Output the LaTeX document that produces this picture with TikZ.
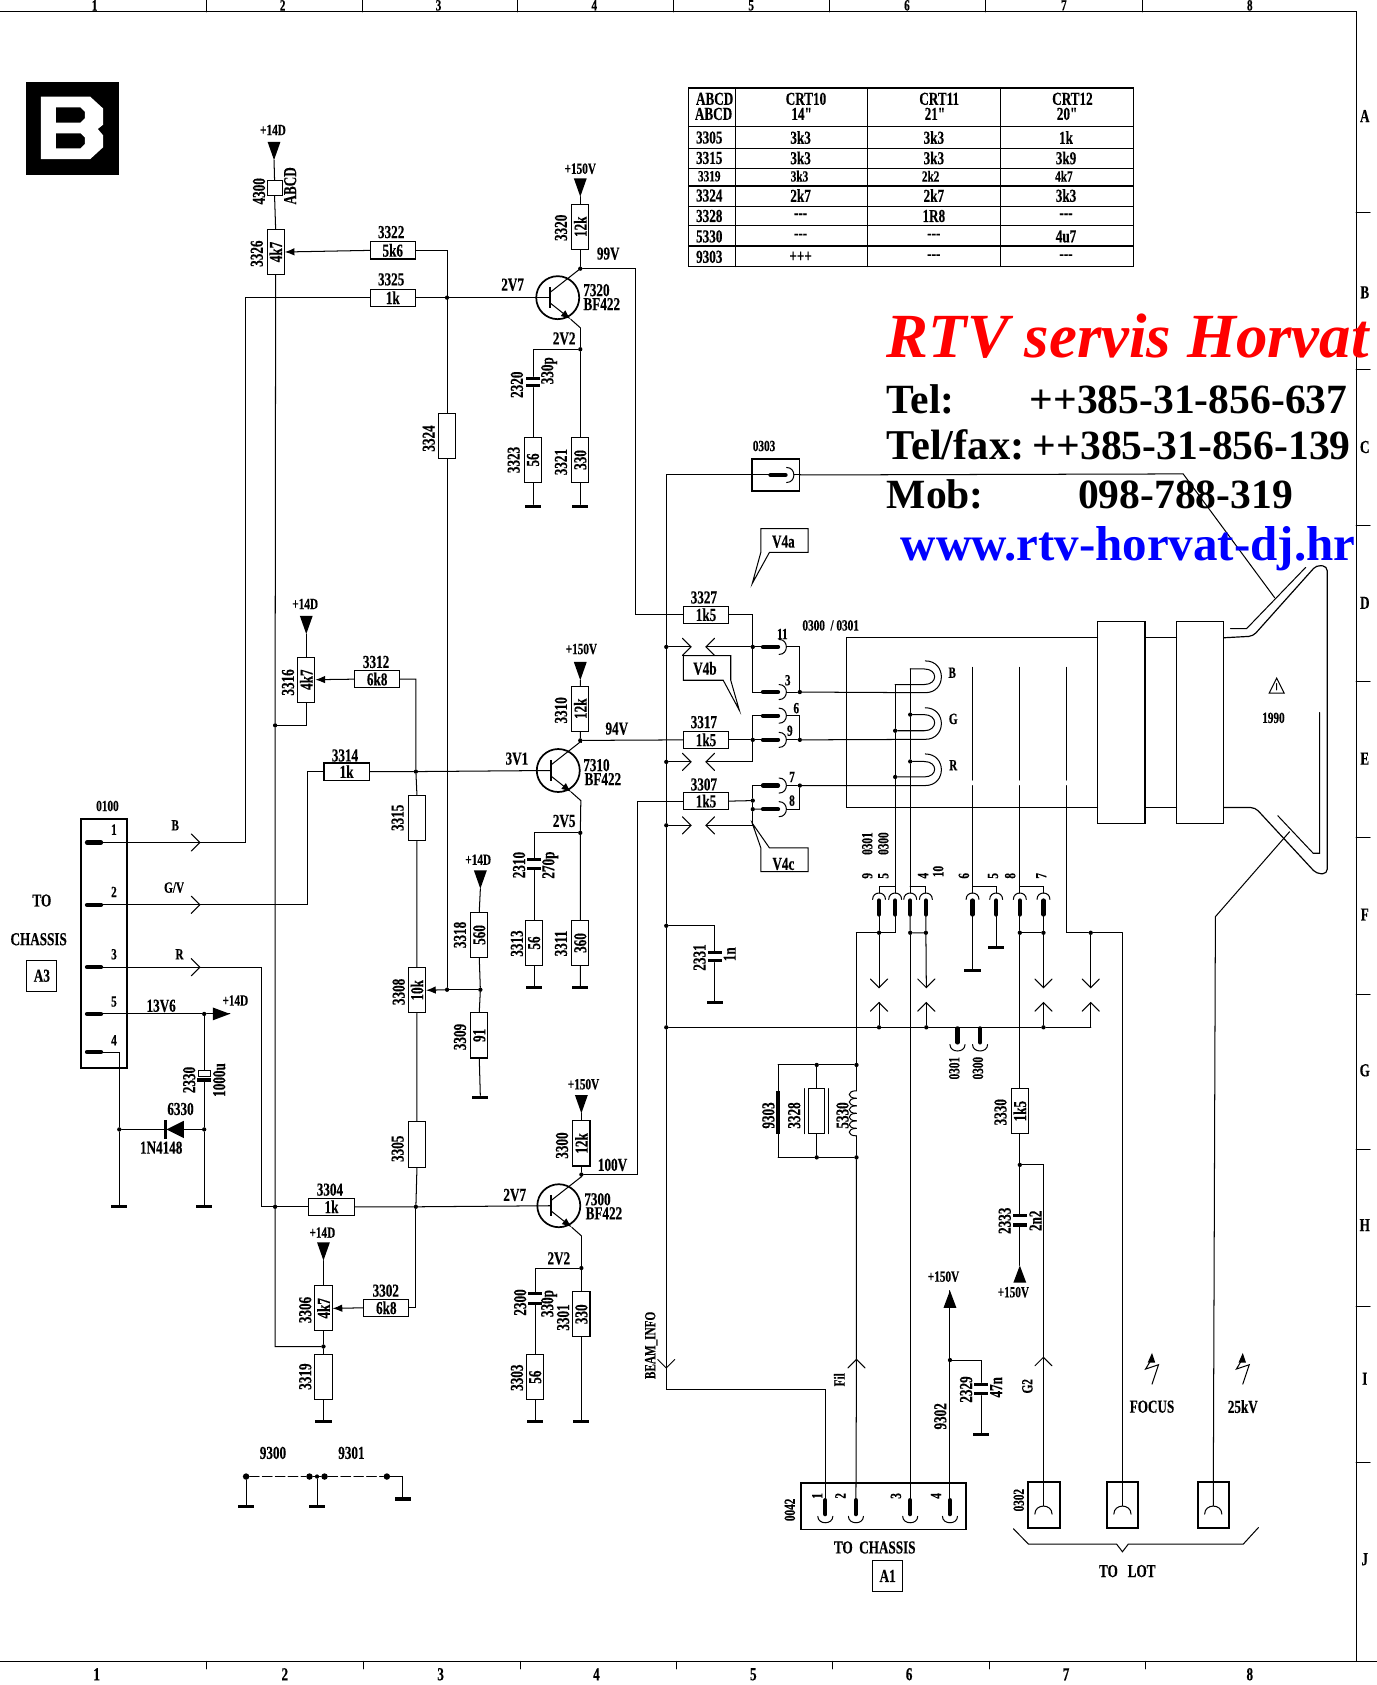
\documentclass[tikz,border=0pt]{standalone}
\usepackage{fontspec}
\usetikzlibrary{arrows.meta}
\newfontfamily\wmfam{Liberation Serif}
\newfontfamily\lfam{Liberation Serif}[FakeStretch=0.72,FakeBold=0.3]
\newcommand\fl{\lfam\bfseries\fontsize{17}{17}\selectfont}
\newcommand\fs{\lfam\bfseries\fontsize{14.5}{14.5}\selectfont}
\newcounter{tn}
\newcommand\sT[4][lb]{\stepcounter{tn}\node[#1] (t\thetn) at (#2,#3) {#4};}
\newcommand\sJ[3]{\node[jdot] (#1) at (#2,#3) {};}
\newcommand\sG[3]{\node[gnd] (#1) at (#2,#3) {};}
\newcommand\sC[3]{\coordinate (#1) at (#2,#3);}
\newcommand\sNpn[3]{%
 \node[tcirc] (#1) at (#2,#3) {};
 \begin{scope}[shift={(#2,#3)}]
 \coordinate (#1b) at (-7,0); \coordinate (#1c) at (21,-27); \coordinate (#1e) at (21,28);
 \draw[line width=1.7pt] (-7,-10) -- (-7,10);
 \draw[wire] (-7,-5) -- (#1c);
 \draw[wire,-{Latex[length=9pt,width=7pt]}] (-7,5) -- (12,20);
 \draw[wire] (12,20) -- (#1e);
 \end{scope}}
\newcommand\sPinH[3]{\begin{scope}[shift={(#2,#3)}]
 \coordinate (#1L) at (0,0); \coordinate (#1R) at (23,0);
 \draw[pinl] (1,0) -- (15,0);
 \draw[wire] (16,-7) .. controls (25,-7) and (25,7) .. (16,7);
 \end{scope}}
\newcommand\sPinV[3]{\begin{scope}[shift={(#2,#3)}]
 \coordinate (#1T) at (0,0); \coordinate (#1B) at (0,21);
 \draw[pinl] (0,7) -- (0,20);
 \draw[wire] (-6,6) .. controls (-6,-2) and (6,-2) .. (6,6);
 \end{scope}}
\newcommand\sPinB[3]{\begin{scope}[shift={(#2,#3)}]
 \coordinate (#1T) at (0,0);
 \draw[pinl] (0,1) -- (0,14);
 \draw[wire] (-7,16) .. controls (-7,24) and (7,24) .. (7,16);
 \end{scope}}
\newcommand\sTriD[3]{\coordinate (#1) at (#2,#3);
 \fill ([xshift=-6pt,yshift=17pt]#1) -- ([xshift=6pt,yshift=17pt]#1) -- (#1) -- cycle;}
\newcommand\sTriU[3]{\coordinate (#1) at (#2,#3);
 \fill ([xshift=-6pt,yshift=-16pt]#1) -- ([xshift=6pt,yshift=-16pt]#1) -- (#1) -- cycle;}
\newcommand\opR[1]{\draw[wire] ([xshift=-8pt,yshift=8pt]#1) -- (#1) -- ([xshift=-8pt,yshift=-8pt]#1);}
\newcommand\opL[1]{\draw[wire] ([xshift=8pt,yshift=8pt]#1) -- (#1) -- ([xshift=8pt,yshift=-8pt]#1);}
\newcommand\opD[1]{\draw[wire] ([xshift=-8pt,yshift=8pt]#1) -- (#1) -- ([xshift=8pt,yshift=8pt]#1);}
\newcommand\opU[1]{\draw[wire] ([xshift=-8pt,yshift=-8pt]#1) -- (#1) -- ([xshift=8pt,yshift=-8pt]#1);}
\newcommand\sCap[4]{\node[plate] (#1a) at (#2,#3) {}; \node[plate] (#1b) at (#2,#4) {};}
\tikzset{
 x=1pt,y=-1pt,
 wire/.style={line width=0.95pt,line cap=round},
 pinl/.style={line width=4pt,line cap=round},
 lb/.style={font=\fl,inner sep=0pt},
 ls/.style={font=\fs,inner sep=0pt},
 lv/.style={font=\fl,inner sep=0pt,rotate=90},
 lsv/.style={font=\fs,inner sep=0pt,rotate=90},
 hr/.style={draw,line width=1pt,fill=white,minimum width=42pt,minimum height=16pt,inner sep=0pt,font=\fl},
 vr/.style={hr,rotate=90},
 sq/.style={draw,line width=1pt,fill=white,minimum width=14pt,minimum height=14pt,inner sep=0pt},
 jdot/.style={circle,fill=black,minimum size=4pt,inner sep=0pt},
 gnd/.style={rectangle,fill=black,minimum width=15pt,minimum height=3pt,inner sep=0pt},
 plate/.style={rectangle,fill=black,minimum width=13pt,minimum height=3pt,inner sep=0pt},
 tcirc/.style={circle,draw,line width=1.6pt,minimum size=40pt,inner sep=0pt},
 conn/.style={draw,line width=1.8pt,inner sep=0pt},
 wiper/.style={wire,-{Latex[length=9pt,width=7pt]}},
}
\begin{document}
\begin{tikzpicture}
\useasboundingbox (0,0) rectangle (1281,1568);
\fill[white] (0,0) rectangle (1281,1568);
%% frame
\draw[wire] (0,11) -- (1262,11) -- (1262,1546);
\draw[wire] (0,1546) -- (1281,1546);
\foreach \x in {192,337,482,627,772,917,1063} \draw[wire] (\x,0) -- (\x,11);
\foreach \x in {192.6,338.6,484,629.5,775,920.5,1066} \draw[wire] (\x,1546) -- (\x,1553);
\foreach \y in {198,344,489,634,779,925,1070,1216,1361} \draw[wire] (1262,\y) -- (1275,\y);
\foreach \n/\x in {1/88,2/263,3/408,4/553,5/699,6/844,7/990,8/1163} \node[ls] (top\n) at (\x,5) {\n};
\foreach \n/\x in {1/90,2/265,3/410,4/555,5/701,6/846,7/992,8/1163} \node[lb] (bot\n) at (\x,1558) {\n};
\foreach \n/\y in {A/108,B/272,C/416,D/561,E/706,F/851,G/996,H/1140,I/1283,J/1451} \node[lb] (side\n) at (1270,\y) {\n};
%% logo
\fill (24,76) rectangle (111,163);
\fill[white,even odd rule] (38,90) -- (84,90) -- (96,101) -- (96,116) -- (91,120) -- (96,126) -- (96,137) -- (84,148) -- (38,148) -- cycle
  (52,100) -- (75,100) -- (79,104) -- (79,110) -- (75,114) -- (52,114) -- cycle
  (52,124) -- (75,124) -- (79,128) -- (79,134) -- (75,138) -- (52,138) -- cycle;
%% table
\draw[line width=1.2pt] (641,82) rectangle (1055,248);
\foreach \y in {118,138,157,173,192,210,229} \draw[line width=1.2pt] (641,\y) -- (1055,\y);
\foreach \x in {684,807,931} \draw[wire] (\x,82) -- (\x,248);
\sT[lb]{665}{92}{ABCD}\sT[lb]{664}{106}{ABCD}
\sT[lb]{750}{92}{CRT10}\sT[lb]{746}{106}{14"}
\sT[lb]{874}{92}{CRT11}\sT[lb]{870}{106}{21"}
\sT[lb]{998}{92}{CRT12}\sT[lb]{993}{106}{20"}
\foreach \r/\a/\b/\c/\d/\y in {1/3305/3k3/3k3/1k/128,2/3315/3k3/3k3/3k9/147,4/3324/2k7/2k7/3k3/182,5/3328/---/1R8/---/201,6/5330/---/---/4u7/220,7/9303/+++/---/---/239}{
 \node[lb] (ta\r) at (660,\y) {\a};
 \node[lb] (tb\r) at (745,\y) {\b};
 \node[lb] (tc\r) at (869,\y) {\c};
 \node[lb] (td\r) at (992,\y) {\d};}
\sT[ls]{660}{164}{3319}\sT[ls]{744}{164}{3k3}\sT[ls]{866}{164}{2k2}\sT[ls]{990}{164}{4k7}
%% supplies, channel B
\sT[ls]{254}{121}{+14D}
\sTriD{S1}{255}{149}
\node[sq] (R4300) at (255.5,175) {};
\sT[lv]{241}{178}{4300}\sT[lv]{270}{173}{ABCD}
\node[vr] (R3326) at (256.5,234.5) {4k7};
\sT[lv]{239}{236}{3326}
\node[hr] (R3322) at (365.5,233) {5k6}; \sT{364}{216}{3322}
\node[hr] (R3325) at (365.5,277) {1k}; \sT{364}{260}{3325}
\node[vr] (R3324) at (416,406) {}; \sT[lv]{399}{408}{3324}
\sNpn{T7320}{519}{277}
\sJ{J3325}{416}{277}
\sJ{J99}{540}{250}
\sJ{J2V2a}{540}{325}
\node[vr] (R3320) at (540,211) {12k}; \sT[lv]{522}{212}{3320}
\sT[ls]{540}{157}{+150V}
\sTriD{S2}{540}{183}
\sT{566}{236}{99V}\sT{477}{265}{2V7}\sT{525}{315}{2V2}
\sT{555}{270}{7320}\sT{560}{283}{BF422}
\sCap{C2320}{496}{352}{359}
\sT[lv]{481}{358}{2320}\sT[lv]{511}{345}{330p}
\node[vr] (R3323) at (496,428) {56}; \sT[lv]{478}{428}{3323}
\node[vr] (R3321) at (540,428) {330}; \sT[lv]{522}{430}{3321}
\sG{G3323}{496}{471}\sG{G3321}{540}{471}
\sC{K496}{496}{325}
\draw[wire] (S1) -- (R4300.north) (R4300.south) -- (R3326.east);
\draw[wiper] (R3322.west) -- (R3326.south);
\draw[wire] (R3322.east) -| (R3324.east);
\draw[wire] (R3325.east) -- (J3325) -- (T7320b);
\draw[wire] (S2) -- (R3320.east) (R3320.west) -- (J99) -- (T7320c);
\draw[wire] (T7320e) -- (J2V2a) -- (R3321.east) (R3321.west) -- (G3321);
\draw[wire] (J2V2a) -- (K496) -- (C2320a) (C2320b) -- (R3323.east) (R3323.west) -- (G3323);
%% channel G
\sT[ls]{284}{562}{+14D}
\sTriD{S3}{285}{590}
\node[vr] (R3316) at (285,632.5) {4k7}; \sT[lv]{268}{635}{3316}
\node[hr] (R3312) at (351,632) {6k8}; \sT{350}{616}{3312}
\node[hr] (R3314) at (322.5,718) {1k}; \sT{321}{703}{3314}
\node[vr] (R3315) at (388,761.5) {}; \sT[lv]{370}{761}{3315}
\node[vr] (R3308) at (388,921.5) {10k}; \sT[lv]{371}{923}{3308}
\node[vr] (R3305) at (388,1065) {}; \sT[lv]{370}{1069}{3305}
\sJ{J3314}{387}{718}
\sJ{J3304}{387}{1123}
\sJ{J675}{256}{675}
\sC{K675}{285}{675}
\sNpn{T7310}{519.5}{717}
\sJ{J94}{540}{689}
\sJ{J2V5}{540}{775}
\sC{K497}{497}{775}
\node[vr] (R3310) at (540,659.5) {12k}; \sT[lv]{522}{661}{3310}
\sT[ls]{541}{604}{+150V}
\sTriD{S4}{540}{633}
\sT{574}{678}{94V}\sT{481}{706}{3V1}\sT{525}{764}{2V5}
\sT{555}{712}{7310}\sT{561}{725}{BF422}
\sCap{C2310}{497}{800}{808}
\sT[lv]{483}{805}{2310}\sT[lv]{512}{805}{270p}
\node[vr] (R3313) at (497,877.5) {56}; \sT[lv]{481}{878}{3313}
\node[vr] (R3311) at (540,877.5) {360}; \sT[lv]{522}{878}{3311}
\sG{G3313}{497}{919}\sG{G3311}{540}{919}
\node[vr] (R3318) at (446,870) {560}; \sT[lv]{428}{870}{3318}
\node[vr] (R3309) at (446,963.5) {91}; \sT[lv]{428}{965}{3309}
\sT[ls]{445}{800}{+14D}
\sTriD{S5}{447}{827}
\sJ{J447}{447}{921}
\sJ{J416}{416}{921}
\sG{G3309}{447}{1021}
\draw[wire] (R3324.west) -- (J416);
\draw[wire] (S3) -- (R3316.east) (R3316.west) |- (K675) -- (J675);
\draw[wiper] (R3312.west) -- (R3316.south);
\draw[wire] (R3312.east) -| (J3314) -- (R3315.east) (R3315.west) -- (R3308.east) (R3308.west) -- (R3305.east) (R3305.west) -- (J3304);
\draw[wire] (R3314.east) -- (J3314) -- (T7310b);
\draw[wire] (S4) -- (R3310.east) (R3310.west) -- (J94) -- (T7310c);
\draw[wire] (T7310e) -- (J2V5) -- (R3311.east) (R3311.west) -- (G3311);
\draw[wire] (J2V5) -- (K497) -- (C2310a) (C2310b) -- (R3313.east) (R3313.west) -- (G3313);
\draw[wire] (S5) -- (R3318.east) (R3318.west) -- (J447) -- (R3309.east) (R3309.west) -- (G3309);
\draw[wire] (J447) -- (J416);
\draw[wiper] (J416) -- (R3308.south);
%% channel R
\node[hr] (R3304) at (308.5,1123) {1k}; \sT{307}{1107}{3304}
\node[hr] (R3302) at (359.5,1217) {6k8}; \sT{359}{1201}{3302}
\node[vr] (R3306) at (301,1217.5) {4k7}; \sT[lv]{284}{1219}{3306}
\node[vr] (R3319) at (301,1281.5) {}; \sT[lv]{284}{1281}{3319}
\sT[ls]{300}{1147}{+14D}
\sTriD{S6}{301}{1173}
\sJ{J3319}{301}{1253}
\sJ{J256}{256}{1123}
\sC{K1253}{256}{1253}
\sG{G3319}{301}{1323}
\sNpn{T7300}{520}{1122}
\sJ{J100}{541}{1093}
\sJ{J2V2b}{541}{1180}
\sC{K498}{498}{1180}
\node[vr] (R3300) at (541,1064) {12k}; \sT[lv]{523}{1066}{3300}
\sT[ls]{543}{1009}{+150V}
\sTriD{S7}{541}{1036}
\sT{570}{1084}{100V}\sT{479}{1112}{2V7}\sT{520}{1171}{2V2}
\sT{556}{1116}{7300}\sT{562}{1129}{BF422}
\sCap{C2300}{498}{1204}{1213}
\sT[lv]{484}{1212}{2300}\sT[lv]{511}{1213}{330p}
\node[vr] (R3301) at (541,1223) {330}; \sT[lv]{524}{1226}{3301}
\node[vr] (R3303) at (498,1281.5) {56}; \sT[lv]{481}{1282}{3303}
\sG{G3303}{498}{1323}\sG{G3301}{541}{1323}
\draw[wire] (R3304.east) -- (J3304) -- (T7300b);
\draw[wire] (J3304) |- (R3302.east);
\draw[wiper] (R3302.west) -- (R3306.south);
\draw[wire] (S6) -- (R3306.east) (R3306.west) -- (J3319) -- (R3319.east) (R3319.west) -- (G3319);
\draw[wire] (R3326.west) -- (J675) -- (J256) -- (K1253) -- (J3319);
\draw[wire] (S7) -- (R3300.east) (R3300.west) -- (J100) -- (T7300c);
\draw[wire] (T7300e) -- (J2V2b) -- (R3301.east) (R3301.west) -- (G3301);
\draw[wire] (J2V2b) -- (K498) -- (C2300a) (C2300b) -- (R3303.east) (R3303.west) -- (G3303);
%% 9300 / 9301
\sT{254}{1352}{9300}\sT{327}{1352}{9301}
\node[jdot,minimum size=6pt] (D1) at (229,1374) {};
\node[jdot,minimum size=6pt] (D2) at (288,1374) {};
\sJ{D3}{295}{1374}
\node[jdot,minimum size=6pt] (D4) at (302,1374) {};
\node[jdot,minimum size=6pt] (D5) at (360,1374) {};
\sG{G1}{229}{1402}\sG{G2}{295}{1402}\sG{G3}{375}{1395}
\sC{K375}{375}{1374}
\draw[wire,dash pattern=on 9pt off 3pt] (D1) -- (D2);
\draw[wire,dash pattern=on 9pt off 3pt] (D4) -- (D5);
\draw[wire] (D2) -- (D4) (D1) -- (G1) (D3) -- (G2) (D5) -- (K375) -- (G3);
%% connector 0100
\node[conn,minimum width=43pt,minimum height=231pt] (C0100) at (96.5,878) {};
\sT[ls]{100}{750}{0100}
\foreach \n/\y/\ly/\t in {1/784/772/1,2/842/830/2,3/900/888/3,5/943.5/932/5,4/979/968/4}{
 \draw[pinl] (81,\y) -- (94,\y);
 \coordinate (P\n) at (95,\y);
 \node[ls] (pn\n) at (106,\ly) {\t};}
\sC{OB}{186}{784}\sC{OG}{186}{842}\sC{OR}{186}{900}
\sT[ls]{163}{768}{B}\sT[ls]{162}{826}{G/V}\sT[ls]{167}{888}{R}
\sC{K228}{228}{784}\sC{K286}{286}{842}\sC{K243}{243}{900}
\draw[wire] (P1) -- (OB) -- (K228) |- (R3325.west);
\draw[wire] (P2) -- (OG) -- (K286) |- (R3314.west);
\draw[wire] (P3) -- (OR) -- (K243) |- (R3304.west);
\opR{OB}\opR{OG}\opR{OR}
\sJ{J190}{190}{943.5}
\sC{S8}{214}{943.5}
\fill (198,937.5) -- (198,949.5) -- (S8) -- cycle;
\sT{150}{936}{13V6}\sT[ls]{219}{931}{+14D}
\sC{K111}{111}{979}
\sJ{J111}{111}{1051}\sJ{J190b}{190}{1051}
\sG{G111}{111}{1123}\sG{G190}{190}{1123}
\draw[wire] (P5) -- (J190) -- (S8);
\draw[wire] (P4) -- (K111) -- (J111) -- (G111);
\node[rectangle,draw,line width=1pt,minimum width=11pt,minimum height=6pt,inner sep=0pt] (C2330a) at (190,999) {};
\node[plate,minimum width=13pt,minimum height=4pt] (C2330b) at (190,1005) {};
\draw[wire] (J190) -- (C2330a) (C2330b) -- (J190b) -- (G190);
\sT[lv]{176}{1005}{2330}\sT[lv]{204}{1005}{1000u}
\sC{DA}{171}{1051}\sC{DK}{155}{1051}
\fill (171,1043) -- (171,1059) -- (DK) -- cycle;
\draw[line width=2.4pt] (154,1042) -- (154,1060);
\draw[wire] (J190b) -- (DA) (DK) -- (J111);
\sT{168}{1032}{6330}\sT{150}{1068}{1N4148}
\sT{39}{838}{TO}\sT{36}{874}{CHASSIS}
\node[draw,line width=0.9pt,font=\fl,minimum width=28pt,minimum height=29pt,inner sep=0pt] (A3) at (39,908) {A3};
%% 0303
\sT[ls]{711}{415}{0303}
\node[conn,minimum width=44pt,minimum height=30pt] (B0303) at (722,442) {};
\sPinH{P0303}{716}{442}
\sC{K1101}{1101}{441}\sC{KCRT}{1186}{556}
\draw[wire] (B0303.east) -- (K1101) -- (KCRT);
\draw[wire] (B0303.west) -- (P0303L) (P0303R) -- (B0303.east);
%% V4 flags
\draw[wire] (708,492) -- (752,492) -- (752,514) -- (716,514) -- (700,543) -- (708,514) -- cycle;
\sT{729}{504}{V4a}
\draw[wire] (636,610) -- (680,610) -- (680,633) -- (688,661) -- (673,633) -- (636,633) -- cycle;
\sT{656}{622}{V4b}
\draw[wire] (700,766) -- (716,789) -- (752,789) -- (752,811) -- (708,811) -- (708,789) -- cycle;
\sT{729}{804}{V4c}
%% 0300 inputs
\node[hr] (R3327) at (657,572) {1k5}; \sT{655}{556}{3327}
\node[hr] (R3317) at (657,688.5) {1k5}; \sT{655}{672}{3317}
\node[hr] (R3307) at (657,745.5) {1k5}; \sT{655}{730}{3307}
\sT[ls]{773}{582}{0300~~/~0301}
\sJ{J620a}{620}{602}\sJ{J620b}{620}{709}\sJ{J620c}{620}{768}\sJ{J620d}{620}{861.5}\sJ{J620e}{620}{956}
\sC{Xa}{643}{602}\sC{Ya}{657}{602}\sC{Xb}{643}{709}\sC{Yb}{657}{709}\sC{Xc}{643}{768}\sC{Yc}{657}{768}
\sJ{J701a}{700.5}{602}\sJ{J701b}{700.5}{688.5}\sJ{J701c}{700.5}{745}\sJ{J701d}{700.5}{753}
\sC{K701a}{700.5}{572}\sC{K701b}{700.5}{644}\sC{K701c}{700.5}{666}\sC{K701d}{700.5}{709}\sC{K701e}{700.5}{731}\sC{K701f}{700.5}{768}
\sPinH{P11}{709}{602}\sPinH{P3}{709}{644}\sPinH{P6}{709}{666}\sPinH{P9}{709}{688.5}\sPinH{P7}{709}{731}\sPinH{P8}{709}{753}
\sT[ls]{728}{590}{11}\sT[ls]{733}{633}{3}\sT[ls]{741}{659}{6}\sT[ls]{735}{680}{9}\sT[ls]{737}{723}{7}\sT[ls]{737}{745}{8}
\sJ{J3}{744.3}{644}\sJ{J9}{744.3}{688.5}\sJ{J7}{744.3}{731}
\sC{K93}{593}{745.5}\sC{K591}{591}{250}\sC{K591b}{591}{572}\sC{K593}{593}{1093}
\sC{KB}{620}{442}
\draw[wire] (B0303.west) -- (KB) -- (J620a) -- (J620b) -- (J620c) -- (J620d) -- (J620e);
\draw[wire] (J99) -- (K591) -- (K591b) -- (R3327.west);
\draw[wire] (J94) -- (R3317.west);
\draw[wire] (J100) -- (K593) -- (K93) -- (R3307.west);
\draw[wire] (R3327.east) -- (K701a) -- (J701a) -- (K701b) -- (P3L);
\draw[wire] (J620a) -- (Xa) (Ya) -- (J701a) -- (P11L);
\draw[wire] (J620b) -- (Xb) (Yb) -- (K701d) -- (J701b) -- (K701c) -- (P6L);
\draw[wire] (R3317.east) -- (J701b) -- (P9L);
\draw[wire] (J620c) -- (Xc) (Yc) -- (K701f) -- (J701d) -- (J701c) -- (K701e) -- (P7L);
\draw[wire] (R3307.east) -- (J701c) (J701d) -- (P8L);
\opR{Xa}\opR{Xb}\opR{Xc}\opL{Ya}\opL{Yb}\opL{Yc}
\draw[wire] (P11R) -| (J3) (P3R) -- (J3);
\draw[wire] (P6R) -| (J9) (P9R) -- (J9);
\draw[wire] (P7R) -- (J7);
\sC{K744}{744.3}{753}
\draw[wire] (P8R) -- (K744) -- (J7);
%% CRT
\draw[wire] (1021.5,593.5) -- (788,593.5) -- (788,751.5) -- (1021.5,751.5);
\draw[wire] (1065.5,593.5) -- (1095,593.5) (1065.5,751.5) -- (1095,751.5);
\node[draw,line width=1pt,minimum width=44pt,minimum height=188pt,inner sep=0pt] (Y1) at (1043.5,672) {};
\node[draw,line width=1pt,minimum width=43.5pt,minimum height=188pt,inner sep=0pt] (Y2) at (1116.7,672) {};
\draw[line width=1.1pt,rounded corners=4pt] (1138.5,593.5) -- (1166,592) -- (1225,526) -- (1235,527) -- (1235,813) -- (1225,813) -- (1168,751.5) -- (1138.5,751.5);
\draw[wire] (1145,585) -- (1160,585) -- (1215,528);
\draw[wire] (1228,663) -- (1228,794) -- (1222,794) -- (1189,759);
\sC{KH}{1200}{774}\sC{KHb}{1131}{853}
\draw[wire] (1181,645) -- (1188,631) -- (1195,645) -- cycle (1188,636) -- (1188,642);
\sT[ls]{1185}{668}{1990}
%% coils
\sJ{J847g}{847}{665}\sJ{J847r}{847}{708.6}\sJ{J833g}{833}{680}\sJ{J833r}{833}{723}
\sC{K847}{847}{622.5}\sC{K833}{833}{637}
\draw[wire] (J3) -- (861,644.6) .. controls (881,644.6) and (881,615) .. (861,615);
\draw[wire] (K847) -- (860,622.5) .. controls (873,622.5) and (873,637) .. (860,637) -- (K833);
\draw[wire] (J9) -- (861,688) .. controls (881,688) and (881,658.6) .. (861,658.6);
\draw[wire] (J847g) -- (860,665) .. controls (873,665) and (873,680) .. (860,680) -- (J833g);
\draw[wire] (J7) -- (861,731) .. controls (881,731) and (881,701.6) .. (861,701.6);
\draw[wire] (J847r) -- (860,708.6) .. controls (873,708.6) and (873,723) .. (860,723) -- (J833r);
\sT[ls]{886}{626}{B}\sT[ls]{887}{669}{G}\sT[ls]{887}{712}{R}
%% lower pins
\sT[lsv]{807}{785}{0301}\sT[lsv]{822}{785}{0300}
\sT[lsv]{807}{815}{9}\sT[lsv]{822}{815}{5}\sT[lsv]{859}{815}{4}\sT[lsv]{873}{811}{10}
\sT[lsv]{897}{815}{6}\sT[lsv]{924}{815}{5}\sT[lsv]{940}{815}{8}\sT[lsv]{969}{815}{7}
\sPinV{Qa}{818}{831}\sPinV{Qb}{833}{831}\sPinV{Qc}{847}{831}\sPinV{Qd}{861.6}{831}
\sPinV{Qe}{905}{831}\sPinV{Qf}{927}{831}\sPinV{Qg}{949}{831}\sPinV{Qh}{971}{831}
\sC{Ta}{833}{825}\sC{Tb}{847}{825}\sC{Tc}{905}{825}\sC{Td}{949}{825}
\draw[wire] (K833) -- (J833g) -- (J833r) -- (QbT);
\draw[wire] (K847) -- (J847g) -- (J847r) -- (QcT);
\draw[wire] (QaT) |- (Ta) (QdT) |- (Tb) (QfT) |- (Tc) (QhT) |- (Td);
\draw[wire] (905,621) -- (905,726);
\draw[wire] (949,621) -- (949,726);
\draw[wire] (992,621) -- (992,726);
\sC{Ve}{905}{731}\sC{Vg}{949}{731}\sC{Vi}{992}{731}
\draw[wire] (Ve) -- (QeT) (Vg) -- (QgT);
\sC{K797}{797}{868}\sC{K833b}{833}{868}
\sJ{J818}{818}{868}\sJ{J847b}{847}{868}\sJ{J862}{861.6}{868}\sJ{J949}{949}{868}\sJ{J971}{971}{868}\sJ{J1015}{1015}{868}
\sC{K992}{992}{868}\sC{K1044}{1044.5}{868}
\sC{Da}{818}{919}\sC{Db}{862}{919}\sC{Dc}{971}{919}\sC{Dd}{1015}{919}
\sC{Ua}{818}{933}\sC{Ub}{862}{933}\sC{Uc}{971}{933}\sC{Ud}{1015}{933}
\sJ{J818b}{818}{956}\sJ{J862b}{862}{956}\sJ{J971b}{971}{956}\sC{K1015}{1015}{956}
\sG{Ge}{905}{903}\sG{Gf}{927}{882}
\draw[wire] (QbB) -- (K833b) -- (J818) -- (K797);
\draw[wire] (QaB) -- (J818) -- (Da);
\draw[wire] (QcB) -- (J847b) -- (J862) -- (Db) (QdB) -- (J862);
\draw[wire] (QeB) -- (Ge) (QfB) -- (Gf);
\draw[wire] (QgB) -- (J949) -- (J971) -- (Dc) (QhB) -- (J971);
\draw[wire] (Vi) -- (K992) -- (J1015) -- (K1044) (J1015) -- (Dd);
\opD{Da}\opD{Db}\opD{Dc}\opD{Dd}
\opU{Ua}\opU{Ub}\opU{Uc}\opU{Ud}
\draw[wire] (J818b) -- (Ua) (J862b) -- (Ub) (J971b) -- (Uc) (K1015) -- (Ud);
\draw[wire] (J620e) -- (J818b) -- (J862b) -- (J971b) -- (K1015);
\sPinB{Pb1}{891}{956}\sPinB{Pb2}{912}{956}
\sT[lsv]{888}{994}{0301}\sT[lsv]{910}{994}{0300}
%% 2331
\sC{K665}{665}{861.5}
\sCap{C2331}{665}{886.5}{894}
\sG{G2331}{665}{933}
\draw[wire] (J620d) -- (K665) -- (C2331a) (C2331b) -- (G2331);
\sT[lv]{651}{891}{2331}\sT[lv]{679}{888}{1n}
%% filament network
\sJ{J797a}{797}{991}\sJ{J797b}{797}{1077}\sJ{J760a}{760}{991}\sJ{J760b}{760}{1077}
\sC{K724a}{724}{991}\sC{K724b}{724}{1077}
\sC{L1}{797}{1015}\sC{L2}{797}{1057}
\draw[wire] (K797) -- (J797a) -- (L1);
\foreach \a/\b in {1015/1022,1022/1029,1029/1036,1036/1043,1043/1050,1050/1057}
  \draw[wire] (797,\a) .. controls (788,\a) and (788,\b) .. (797,\b);
\draw[wire] (L2) -- (J797b);
\draw[wire] (K724a) -- (J760a) -- (J797a) (K724b) -- (J760b) -- (J797b);
\draw[wire] (K724a) -- (K724b);
\draw[line width=3pt] (724,1015) -- (724,1055);
\node[vr,minimum width=42pt,minimum height=15pt] (R3328) at (760,1034) {};
\draw[wire] (749,1013) -- (749,1055) (771,1013) -- (771,1055);
\draw[wire] (J760a) -- (R3328.east) (R3328.west) -- (J760b);
\sT[lv]{715}{1038}{9303}\sT[lv]{739}{1038}{3328}\sT[lv]{784}{1038}{5330}
%% G2 and 3330
\node[vr] (R3330) at (949,1034) {1k5}; \sT[lv]{931}{1035}{3330}
\sJ{J949c}{949}{1084}
\sCap{C2333}{949}{1131}{1140}
\sTriU{S9}{949}{1177.6}
\sT[ls]{943}{1202.5}{+150V}
\sT[lv]{935}{1136}{2333}\sT[lv]{963.6}{1136}{2n2}
\sC{OG2}{971}{1263}
\sT[lsv]{956}{1290}{G2}
\draw[wire] (J949) -- (R3330.east) (R3330.west) -- (J949c) -- (C2333a) (C2333b) -- (S9);
%% 0042
\node[conn,minimum width=154pt,minimum height=43.5pt] (C0042) at (822,1401.5) {};
\sT[lsv]{735}{1405}{0042}
\sPinB{Pa1}{768}{1395}\sPinB{Pa2}{796.5}{1395}\sPinB{Pa3}{847}{1395}\sPinB{Pa4}{884}{1395}
\sT[lsv]{760.5}{1392}{1}\sT[lsv]{782}{1392}{2}\sT[lsv]{833.7}{1392}{3}\sT[lsv]{871}{1392}{4}
\sT{814}{1440}{TO~~CHASSIS}
\node[draw,line width=0.9pt,font=\fl,minimum width=28pt,minimum height=29pt,inner sep=0pt] (A1) at (826,1466.5) {A1};
%% beam info
\sC{OB1}{620}{1273}\sC{K1293}{620}{1293}
\opD{OB1}
\draw[wire] (J620e) -- (OB1) -- (K1293) -| (Pa1T);
\sT[lsv]{606}{1252}{BEAM\_INFO}
\sC{OFil}{797}{1265}
\draw[wire] (J797b) -- (OFil) -- (Pa2T);
\opU{OFil}
\sT[lsv]{781}{1284}{Fil}
\draw[wire] (J847b) -- (Pa3T);
\sT[ls]{878}{1188}{+150V}
\sTriU{S10}{884}{1201}
\sJ{J884}{884}{1265.6}
\sC{K913}{913}{1265.6}
\sCap{C2329}{913}{1288}{1297}
\sG{G2329}{913}{1335}
\draw[wire] (S10) -- (J884) -- (Pa4T);
\draw[wire] (J884) -- (K913) -- (C2329a) (C2329b) -- (G2329);
\sT[lv]{899}{1293}{2329}\sT[lv]{927}{1291}{47n}\sT[lv]{875}{1318}{9302}
%% LOT boxes
\node[conn,minimum width=29pt,minimum height=43pt] (L0302) at (971.5,1400.5) {};
\node[conn,minimum width=29pt,minimum height=43pt] (LF) at (1044.5,1400.5) {};
\node[conn,minimum width=29pt,minimum height=43pt] (LH) at (1129,1400.5) {};
\sC{A1a}{971}{1401}\sC{A2a}{1044.5}{1401}\sC{A3a}{1129}{1401}
\foreach \c in {A1a,A2a,A3a} \draw[wire] ([xshift=-8pt,yshift=-8pt]\c) .. controls ([xshift=-8pt,yshift=2pt]\c) and ([xshift=8pt,yshift=2pt]\c) .. ([xshift=8pt,yshift=-8pt]\c);
\draw[wire] (J949c) -| (OG2) -- (A1a);
\opU{OG2}
\draw[wire] (K1044) -- (A2a);
\draw[wire] (KH) -- (KHb) -- (A3a);
\sT[lsv]{948}{1396}{0302}
\draw[wire] (943,1422.6) -- (957,1436.8) -- (1039,1436.8) -- (1044.5,1444) -- (1050,1436.8) -- (1157,1436.8) -- (1171,1421.5);
\sT{1049}{1462}{TO~~~LOT}
\sT{1072}{1309}{FOCUS}\sT{1156.5}{1309}{25kV}
\foreach \x in {1072,1156.5}{
 \draw[wire] (\x,1288) -- ++(6,-18) -- ++(-12,4) -- ++(6,-10);
 \fill (\x,1259) -- ++(-4,9) -- ++(7,0) -- cycle;}
%% watermark
\node[anchor=base west,inner sep=0pt,text=red,font=\wmfam\bfseries\itshape\fontsize{58.5}{60}\selectfont] (W1) at (825,333) {RTV servis Horvat};
\node[anchor=base west,inner sep=0pt,font=\wmfam\bfseries\fontsize{38.7}{40}\selectfont] (W2) at (825,385) {Tel:};
\node[anchor=base west,inner sep=0pt,font=\wmfam\bfseries\fontsize{38.7}{40}\selectfont] (W3) at (958,385) {++385-31-856-637};
\node[anchor=base west,inner sep=0pt,font=\wmfam\bfseries\fontsize{39.5}{40}\selectfont] (W4) at (825,428) {Tel/fax:};
\node[anchor=base west,inner sep=0pt,font=\wmfam\bfseries\fontsize{38.7}{40}\selectfont] (W5) at (961,428) {++385-31-856-139};
\node[anchor=base west,inner sep=0pt,font=\wmfam\bfseries\fontsize{38.7}{40}\selectfont] (W6) at (825,473) {Mob:};
\node[anchor=base west,inner sep=0pt,font=\wmfam\bfseries\fontsize{38.7}{40}\selectfont] (W7) at (1003,473) {098-788-319};
\node[anchor=base west,inner sep=0pt,text=blue,font=\wmfam\bfseries\fontsize{45.6}{46}\selectfont] (W8) at (838,522) {www.rtv-horvat-dj.hr};
\end{tikzpicture}
\end{document}
